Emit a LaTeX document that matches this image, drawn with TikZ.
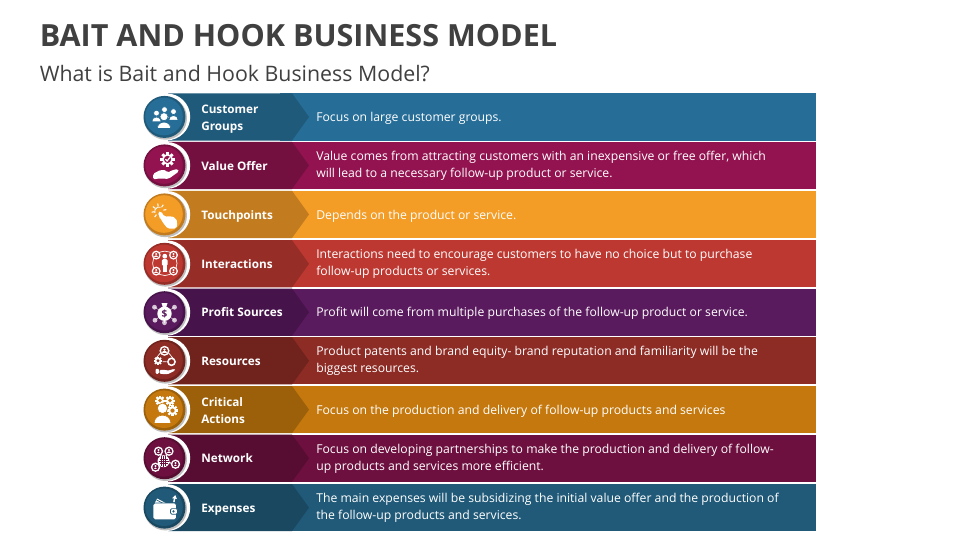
\documentclass[tikz,border=0pt]{standalone}
\usepackage{fontspec}
\setmainfont{Open Sans}
\usetikzlibrary{positioning,calc}
\definecolor{custD}{HTML}{205A7A}\definecolor{custL}{HTML}{266D97}
\definecolor{valD}{HTML}{741040}\definecolor{valL}{HTML}{921350}
\definecolor{touchD}{HTML}{C27C1F}\definecolor{touchL}{HTML}{F39C26}
\definecolor{interD}{HTML}{962D27}\definecolor{interL}{HTML}{BC3831}
\definecolor{profD}{HTML}{47134B}\definecolor{profL}{HTML}{5A1A5E}
\definecolor{resD}{HTML}{70221D}\definecolor{resL}{HTML}{8D2B25}
\definecolor{critD}{HTML}{9C600A}\definecolor{critL}{HTML}{C4780D}
\definecolor{netD}{HTML}{570D32}\definecolor{netL}{HTML}{6D103F}
\definecolor{expD}{HTML}{1A4860}\definecolor{expL}{HTML}{215A78}
\definecolor{inkgray}{HTML}{404040}
\tikzset{
    rowlabel/.style={anchor=west,align=left,text=white,yshift=-1pt,execute at begin node=\strut,execute at end node=\strut,font=\fontsize{8.8}{12.75}\selectfont\bfseries},
    rowlabeltwo/.style={rowlabel,yshift=-1.3pt},
    rowtext/.style={anchor=west,align=left,text=white,yshift=-.9pt,execute at begin node=\strut,execute at end node=\strut,font=\fontsize{9.15}{12.75}\selectfont},
    person/.pic={
        \filldraw[white,draw=bandL,line width=.5pt] (0,-3.6) circle (2.8);
        \filldraw[white,draw=bandL,line width=.5pt] (-4.6,4.6) .. controls (-4.6,-1.4) and (4.6,-1.4) .. (4.6,4.6) -- cycle;
    },
    gearwheel/.pic={
        \foreach \a in {0,45,...,315}{\fill[white,rotate=\a] (-.9,-4.5) rectangle (.9,-2.5);}
        \fill[white] (0,0) circle (3.4);
        \fill[bandL] (0,0) circle (1.7);
    },
    badge/.pic={
        \fill[white] (0,0) circle (3.6);
        \fill[bandL] (0,0) circle (2.4);
        \fill[white] (0,-.9) circle (.9);
        \fill[white] (-1.5,1.7) .. controls (-1.5,-.3) and (1.5,-.3) .. (1.5,1.7) -- cycle;
    }
}
% one row of the table
\newcommand{\bizrow}[8]{
    \begin{scope}[shift={(0,#2)}]
        \colorlet{bandL}{#4}
        \fill[#4] (280,-23.6) rectangle (816,23.6);
        \fill[#3] (168,-23.6) -- (292,-23.6) -- (309,0) -- (292,23.6) -- (168,23.6) -- cycle;
        \fill[white] (166.8,0) circle (23.4);
        \fill[black!45,opacity=.55] (165.4,1.2) circle (21.6);
        \fill[#3] (164.5,0) circle (21);
        \fill[#4] (164,-.4) circle (18.8);
        \node[#8] (lab#1) at (196.6,0) {#5};
        \node[rowtext] (txt#1) at (311.6,0) {#6};
        \begin{scope}[shift={(164.5,0)}]
            #7
        \end{scope}
    \end{scope}
}
\newcommand{\iconcust}{
    \pic[scale=1.05] at (-8,0) {person};
    \pic[scale=1.05] at (9,-1.5) {person};
    \pic[scale=1.05] at (0,-3.5) {person};
    \pic[scale=1.45] at (-.5,5) {person};
}
\newcommand{\iconval}{
    \pic[scale=1.6] at (3,-6) {gearwheel};
    \fill[bandL] (3,-6) circle (3.6);
    \draw[white,line width=.9pt] (1,-6.2) -- (2.6,-4.4) -- (5.4,-8);
    \fill[white,rounded corners=1.2] (-11.5,8.5) -- (-4,4.5) -- (2,5) -- (3,7.5) -- (7,5) -- (13.5,3.5) -- (14.5,6) -- (4,13.5) -- (-5,13) -- (-11.5,14) -- cycle;
}
\newcommand{\icontouch}{
    \fill[white,rounded corners=1.4] (-7,-2) -- (-3.6,-3.4) -- (0,2.4) -- (6,1.6) -- (11,3.4) -- (13,8) -- (12,14) -- (3.4,14.4) -- (-1,9) -- (-3,6) -- cycle;
    \foreach \a in {-80,-35,10,55,100,145,190}{\draw[white,line width=.8pt,rotate around={\a:(-5.5,-3.5)}] (-5.5,-8) -- (-5.5,-11);}
    \draw[white,line width=.7pt] (-9.6,-1.5) arc (160:290:4.4);
}
\newcommand{\iconinter}{
    \draw[white,line width=.5pt] (.3,-.5) circle (12.2);
    \pic[scale=1.25] at (-8.3,-8.7) {badge};
    \pic[scale=1.25] at (9,-8.7) {badge};
    \pic[scale=1.25] at (-8.3,7.3) {badge};
    \pic[scale=1.25] at (9,7.3) {badge};
    \fill[white] (.3,-7.6) circle (2.4);
    \fill[white,rounded corners=1] (-2.6,-4.6) rectangle (3.2,2);
    \fill[white] (-1.6,1) rectangle (2.2,8.5);
}
\newcommand{\iconprof}{
    \foreach \p in {(-10,-5),(10,-5),(-9.5,8),(0,10.5),(10,8)}{
        \draw[white,opacity=.7,line width=.4pt] (0,1) -- \p;
        \fill[white,opacity=.75] \p circle (2.4);
    }
    \fill[white] (0,1.5) circle (7.2);
    \fill[white] (-3,-9) -- (3,-9) -- (1.6,-5) -- (-1.6,-5) -- cycle;
    \node[inner sep=0pt,text=bandL,font=\fontsize{7.5}{8}\selectfont\bfseries] (bagsign) at (0,1.5) {\$};
}
\newcommand{\iconres}{
    \draw[white,line width=.5pt] (-4,-8) -- (-9,-2) (4,-8) -- (9,-2) (-2,1) -- (2,1);
    \pic[scale=1.4] at (0,-10) {badge};
    \pic[scale=.95] at (-6.5,0) {gearwheel};
    \fill[white] (7,1) circle (4.4);
    \fill[bandL] (7,1) circle (2.6);
    \fill[white,rounded corners=.8] (-9,8) rectangle (-5.5,13);
    \fill[white,rounded corners=1] (-5,9) -- (1,9) -- (3,10) -- (10,8) -- (11,9.5) -- (3,13.5) -- (-5,13) -- cycle;
}
\newcommand{\iconcrit}{
    \pic[scale=1.1] at (-4.5,-9) {gearwheel};
    \pic[scale=1.1] at (5.5,-9) {gearwheel};
    \pic[scale=1.25] at (8,1) {gearwheel};
    \pic[scale=1.85] at (-2,5.4) {person};
}
\newcommand{\iconnet}{
    \draw[white,line width=.7pt] (-1,3) -- (-6,-7) (-1,3) -- (4.5,-7) (-1,3) -- (-9,9) (-1,3) -- (11,6);
    \fill[white] (-1,3) circle (6);
    \draw[bandL,line width=.4pt] (-5,1) -- (3,1) (-6,3) -- (4,3) (-5,5) -- (3,5) (-3,-2) -- (-3,8) (-1,-2.6) -- (-1,8.6) (1,-2) -- (1,8);
    \pic[scale=1.3] at (-6,-7) {badge};
    \pic[scale=1.3] at (4.5,-7) {badge};
    \pic[scale=1.3] at (-9,9) {badge};
    \pic[scale=1.3] at (11,6) {badge};
}
\newcommand{\iconexp}{
    \fill[white,rotate around={-28:(-5,-5)}] (-9,-7.5) rectangle (3,-2);
    \draw[bandL,line width=.5pt,rotate around={-28:(-5,-5)}] (-9,-6) -- (3,-6);
    \filldraw[white,draw=bandL,line width=.5pt,rounded corners=1.4] (-11.4,-4.6) rectangle (12,12.2);
    \filldraw[white,draw=bandL,line width=.5pt,rounded corners=1] (6,1) rectangle (13,6.6);
    \fill[bandL] (9,3.8) circle (1.2);
    \draw[white,line width=1.1pt] (9.4,-5.5) -- (10.2,-10);
    \fill[white] (7.6,-9.4) -- (10.8,-12.6) -- (12.4,-8.6) -- cycle;
}
\begin{document}
\begin{tikzpicture}[x=.75pt,y=-.75pt]
	\useasboundingbox (0,0) rectangle (960,540);
	\fill[white] (0,0) rectangle (960,540);
	\node[anchor=base west,inner sep=0pt,text=inkgray,font=\fontsize{22.9}{28}\selectfont\bfseries] (title) at (39.5,46) {BAIT AND HOOK BUSINESS MODEL};
	\node[anchor=base west,inner sep=0pt,text=inkgray,font=\fontsize{16}{20}\selectfont] (subtitle) at (39.5,81) {What is Bait and Hook Business Model?};
	\bizrow{A}{116.9}{custD}{custL}{Customer\\Groups}{Focus on large customer groups.}{\iconcust}{rowlabeltwo}
	\bizrow{B}{165.4}{valD}{valL}{Value Offer}{Value comes from attracting customers with an inexpensive or free offer, which\\will lead to a necessary follow-up product or service.}{\iconval}{rowlabel}
	\bizrow{C}{214.4}{touchD}{touchL}{Touchpoints}{Depends on the product or service.}{\icontouch}{rowlabel}
	\bizrow{D}{263.8}{interD}{interL}{Interactions}{Interactions need to encourage customers to have no choice but to purchase\\follow-up products or services.}{\iconinter}{rowlabel}
	\bizrow{E}{312.2}{profD}{profL}{Profit Sources}{Profit will come from multiple purchases of the follow-up product or service.}{\iconprof}{rowlabel}
	\bizrow{F}{360.8}{resD}{resL}{Resources}{Product patents and brand equity- brand reputation and familiarity will be the\\biggest resources.}{\iconres}{rowlabel}
	\bizrow{G}{409.6}{critD}{critL}{Critical\\Actions}{Focus on the production and delivery of follow-up products and services}{\iconcrit}{rowlabeltwo}
	\bizrow{H}{458.2}{netD}{netL}{Network}{Focus on developing partnerships to make the production and delivery of follow-\\up products and services more efficient.}{\iconnet}{rowlabel}
	\bizrow{I}{507.6}{expD}{expL}{Expenses}{The main expenses will be subsidizing the initial value offer and the production of\\the follow-up products and services.}{\iconexp}{rowlabel}
\end{tikzpicture}
\end{document}
